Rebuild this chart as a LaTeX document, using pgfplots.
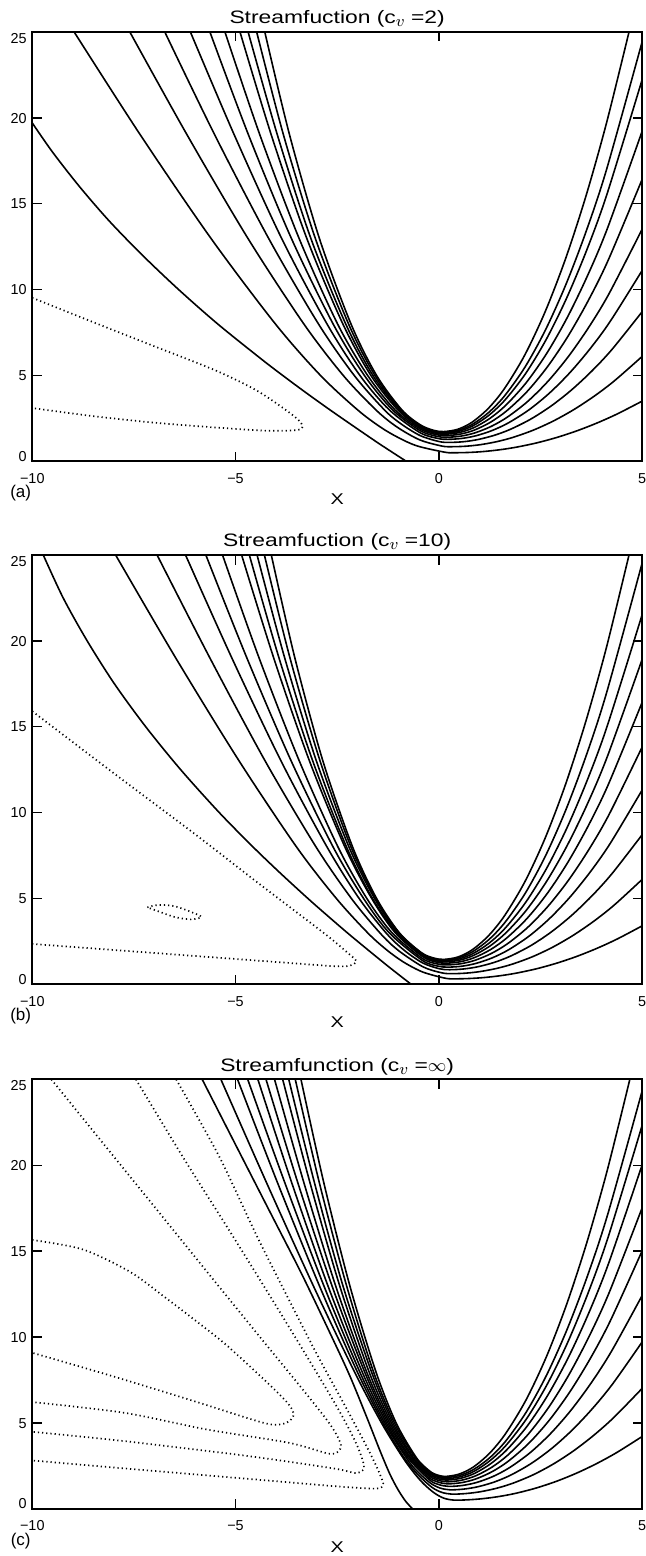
\documentclass[border=0pt]{standalone}
\usepackage{fontspec}
\setmainfont{Liberation Sans}
\newfontfamily\titlefont[FakeStretch=1.27]{Liberation Sans}
\usepackage{pgfplots}
\pgfplotsset{compat=1.18}
\newcommand{\cv}{c\raisebox{-1.5pt}{\fontsize{8}{9}\selectfont$v$}}
\pgfplotsset{
  panel/.style={
    scale only axis, width=304.85pt, height=214.65pt,
    xmin=-10, xmax=5, ymin=0, ymax=25,
    axis line style={line width=1pt},
    tick align=inside, tick pos=both,
    major tick length=4.75pt,
    tick style={black, line width=0.75pt},
    xtick={-10,-5,0,5}, xticklabels={−10,−5,0,5},
    ytick={0,5,10,15,20,25},
    yticklabels={{\raisebox{2.58pt}{0}},5,10,15,20,{\raisebox{-3.2pt}{25}}},
    ticklabel style={font=\fontsize{7.2}{8}\selectfont, inner sep=0pt},
    xticklabel style={anchor=north, yshift=-5.7pt},
    yticklabel style={anchor=base east, xshift=-2.6pt, yshift=-2.58pt},
    every axis title/.style={font=\titlefont\fontsize{9}{10}\selectfont, at={(0.5,1)}, anchor=base, yshift=4.2pt},
    xlabel={X},
    every axis x label/.style={font=\titlefont\fontsize{7.8}{9}\selectfont, at={(axis description cs:0.5,0)}, anchor=center, yshift=-19pt},
  },
  sol/.style={black, line width=0.8pt, smooth},
  dotc/.style={black, line width=0.85pt, dash pattern=on 0.6pt off 1.5pt, smooth},
}
\begin{document}
\begin{tikzpicture}
\useasboundingbox (0,0) rectangle (322.5pt,-778pt);

% ---------------- (a) c_v = 2
\begin{axis}[panel, name=a, at={(16.15pt,-230.65pt)}, anchor=south west,
  title={Streamfuction (\cv\ =2)}]
  \addplot[sol] coordinates {(-10,19.7) (-9.5,18) (-8.84,16) (-8.11,14) (-7.29,12) (-6.4,10) (-5.44,8) (-4.39,6) (-3.84,5) (-3.27,4) (-2.68,3) (-2.07,2) (-1.45,1) (-0.8,0)};
  \addplot[sol] coordinates {(-4.28,25) (-3.67,19) (-2.94,13) (-2.16,8) (-1.53,5) (-0.91,3) (-0.46,2.13) (-0.13,1.805) (0.12,1.73) (0.47,1.867) (0.82,2.278) (1.22,3.084) (1.62,4.248) (2.12,6.207) (2.62,8.726) (3.12,11.80) (3.62,15.44) (4.12,19.64) (4.68,25)};
  \addplot[sol] coordinates {(-4.48,25) (-3.82,19) (-3.04,13) (-2.22,8) (-1.57,5) (-0.94,3) (-0.46,2.09) (-0.12,1.762) (0.13,1.69) (0.48,1.807) (0.83,2.159) (1.23,2.848) (1.63,3.844) (2.13,5.520) (2.63,7.674) (3.13,10.31) (3.63,13.42) (4.13,17.01) (5,24.4)};
  \addplot[sol] coordinates {(-4.69,25) (-3.97,19) (-3.15,13) (-2.29,8) (-1.62,5) (-0.97,3) (-0.46,2.04) (-0.11,1.709) (0.14,1.64) (0.49,1.747) (0.84,2.067) (1.24,2.693) (1.64,3.599) (2.14,5.122) (2.64,7.081) (3.14,9.475) (3.64,12.30) (4.14,15.57) (5,22.2)};
  \addplot[sol] coordinates {(-4.89,25) (-4.12,19) (-3.25,13) (-2.36,8) (-1.67,5) (-1.01,3) (-0.47,1.98) (-0.10,1.646) (0.15,1.58) (0.50,1.672) (0.85,1.947) (1.25,2.486) (1.65,3.265) (2.15,4.576) (2.65,6.262) (3.15,8.322) (3.65,10.76) (4.15,13.57) (5,19.2)};
  \addplot[sol] coordinates {(-5.26,25) (-4.40,19) (-3.44,13) (-2.49,8) (-1.75,5) (-1.08,3) (-0.47,1.9) (-0.08,1.561) (0.17,1.5) (0.52,1.578) (0.87,1.813) (1.27,2.273) (1.67,2.937) (2.17,4.055) (2.67,5.492) (3.17,7.248) (3.67,9.324) (4.17,11.72) (5,16.4)};
  \addplot[sol] coordinates {(-5.63,25) (-4.68,19) (-3.63,13) (-2.60,8) (-1.83,5) (-1.14,3) (-0.47,1.8) (-0.06,1.458) (0.19,1.4) (0.54,1.464) (0.89,1.656) (1.29,2.033) (1.69,2.577) (2.19,3.492) (2.69,4.668) (3.19,6.106) (3.69,7.805) (4.19,9.766) (5,13.5)};
  \addplot[sol] coordinates {(-6.11,25) (-5.03,19) (-3.87,13) (-2.75,8) (-1.94,5) (-1.22,3) (-0.47,1.68) (-0.03,1.334) (0.22,1.28) (0.57,1.333) (0.92,1.491) (1.32,1.800) (1.72,2.247) (2.22,2.999) (2.72,3.966) (3.22,5.148) (3.72,6.545) (4.22,8.157) (5,11.1)};
  \addplot[sol] coordinates {(-6.74,25) (-5.51,19) (-4.19,13) (-2.96,8) (-2.08,5) (-1.34,3) (-0.94,2.2) (-0.46,1.5) (0.01,1.149) (0.26,1.10) (0.61,1.141) (0.96,1.266) (1.36,1.509) (1.76,1.861) (2.26,2.453) (2.76,3.214) (3.26,4.144) (3.76,5.243) (4.26,6.511) (5,8.7)};
  \addplot[sol] coordinates {(-7.60,25) (-6.19,19) (-4.70,13) (-3.32,8) (-2.35,5) (-1.55,3) (-1.03,2) (-0.47,1.25) (0.07,0.891) (0.32,0.85) (0.67,0.879) (1.02,0.967) (1.42,1.140) (1.82,1.389) (2.32,1.809) (2.82,2.348) (3.32,3.007) (3.82,3.786) (4.32,4.685) (5,6.1)};
  \addplot[sol] coordinates {(-8.97,25) (-7.34,19) (-5.61,13) (-4.02,8) (-2.91,5) (-2.00,3) (-1.44,2) (-1.01,1.4) (-0.54,0.9) (0.15,0.529) (0.40,0.5) (0.75,0.517) (1.10,0.569) (1.50,0.672) (1.90,0.819) (2.40,1.067) (2.90,1.386) (3.40,1.776) (3.90,2.237) (4.40,2.769) (5,3.5)};
  \addplot[dotc] coordinates {(-10,9.52) (-8.5,8.1) (-7,6.7) (-5.5,5.3) (-4.5,4.15) (-3.8,3.05) (-3.45,2.4) (-3.35,2.0) (-3.5,1.82) (-4.2,1.78) (-5.5,1.97) (-7,2.25) (-8.5,2.63) (-10,3.1)};
\end{axis}
\node[font=\fontsize{8.5}{10}\selectfont] at ([shift={(-5.8pt,-16pt)}]a.south west) {(a)};

% ---------------- (b) c_v = 10
\begin{axis}[panel, name=b, at={(16.15pt,-492.15pt)}, anchor=south west,
  title={Streamfuction (\cv\ =10)}]
  \addplot[sol] coordinates {(-9.73,25) (-9.24,22.5) (-8.65,20) (-7.98,17.5) (-7.21,15) (-6.35,12.5) (-5.40,10) (-4.57,8) (-3.91,6.5) (-3.22,5) (-2.74,4) (-2.25,3) (-1.74,2) (-1.22,1) (-0.68,0)};
  \addplot[sol] coordinates {(-4.12,25) (-3.54,19) (-2.85,13) (-2.12,8) (-1.53,5) (-0.97,3) (-0.43,1.85) (-0.13,1.532) (0.12,1.45) (0.47,1.589) (0.82,2.005) (1.22,2.821) (1.62,3.999) (2.12,5.981) (2.62,8.530) (3.12,11.65) (3.62,15.33) (4.12,19.57) (4.68,25)};
  \addplot[sol] coordinates {(-4.29,25) (-3.66,19) (-2.92,13) (-2.16,8) (-1.55,5) (-0.98,3) (-0.43,1.82) (-0.12,1.500) (0.13,1.42) (0.48,1.539) (0.83,1.897) (1.23,2.597) (1.63,3.609) (2.13,5.312) (2.63,7.501) (3.13,10.18) (3.63,13.34) (4.13,16.99) (5,24.5)};
  \addplot[sol] coordinates {(-4.47,25) (-3.79,19) (-3.01,13) (-2.21,8) (-1.58,5) (-1.01,3) (-0.43,1.77) (-0.11,1.448) (0.14,1.37) (0.49,1.474) (0.84,1.788) (1.24,2.401) (1.64,3.287) (2.14,4.779) (2.64,6.696) (3.14,9.040) (3.64,11.81) (4.14,15.01) (5,21.5)};
  \addplot[sol] coordinates {(-4.66,25) (-3.93,19) (-3.10,13) (-2.27,8) (-1.63,5) (-1.04,3) (-0.43,1.71) (-0.10,1.385) (0.15,1.31) (0.50,1.402) (0.85,1.676) (1.25,2.215) (1.65,2.993) (2.15,4.302) (2.65,5.984) (3.15,8.041) (3.65,10.47) (4.15,13.28) (5,18.9)};
  \addplot[sol] coordinates {(-4.85,25) (-4.06,19) (-3.18,13) (-2.31,8) (-1.65,5) (-1.07,3) (-0.41,1.63) (-0.08,1.304) (0.17,1.23) (0.52,1.310) (0.87,1.549) (1.27,2.017) (1.67,2.693) (2.17,3.831) (2.67,5.294) (3.17,7.082) (3.67,9.195) (4.17,11.63) (5,16.4)};
  \addplot[sol] coordinates {(-5.32,25) (-4.42,19) (-3.43,13) (-2.48,8) (-1.77,5) (-1.15,3) (-0.42,1.53) (-0.06,1.197) (0.19,1.13) (0.54,1.197) (0.89,1.398) (1.29,1.792) (1.69,2.362) (2.19,3.320) (2.69,4.552) (3.19,6.058) (3.69,7.837) (4.19,9.89) (5,13.8)};
  \addplot[sol] coordinates {(-5.73,25) (-4.72,19) (-3.63,13) (-2.60,8) (-1.85,5) (-1.22,3) (-0.41,1.4) (-0.03,1.063) (0.22,1.0) (0.57,1.055) (0.92,1.221) (1.32,1.545) (1.72,2.014) (2.22,2.803) (2.72,3.818) (3.22,5.057) (3.72,6.522) (4.22,8.213) (5,11.3)};
  \addplot[sol] coordinates {(-6.23,25) (-5.09,19) (-3.88,13) (-2.75,8) (-1.96,5) (-1.30,3) (-0.86,2) (-0.40,1.25) (0.01,0.909) (0.26,0.85) (0.61,0.893) (0.96,1.021) (1.36,1.273) (1.76,1.636) (2.26,2.248) (2.76,3.034) (3.26,3.995) (3.76,5.130) (4.26,6.440) (5,8.7)};
  \addplot[sol] coordinates {(-6.93,25) (-5.63,19) (-4.27,13) (-3.02,8) (-2.15,5) (-1.45,3) (-1.01,2) (-0.39,1.02) (0.07,0.671) (0.32,0.62) (0.67,0.651) (1.02,0.743) (1.42,0.923) (1.82,1.183) (2.32,1.621) (2.82,2.184) (3.32,2.872) (3.82,3.685) (4.32,4.623) (5,6.1)};
  \addplot[sol] coordinates {(-7.95,25) (-6.47,19) (-4.91,13) (-3.50,8) (-2.52,5) (-1.75,3) (-1.28,2) (-0.87,1.3) (-0.40,0.72) (0.15,0.359) (0.40,0.32) (0.75,0.338) (1.10,0.391) (1.50,0.496) (1.90,0.648) (2.40,0.902) (2.90,1.230) (3.40,1.630) (3.90,2.104) (4.40,2.650) (5,3.4)};
  \addplot[dotc] coordinates {(-10,15.9) (-8,12.3) (-6,8.75) (-4.5,6.0) (-3.5,4.2) (-2.7,2.75) (-2.25,1.85) (-2.03,1.35) (-2.2,1.08) (-2.6,1.06) (-4,1.3) (-6,1.65) (-8,2.0) (-10,2.35)};
  \addplot[dotc] coordinates {(-7.17,4.48) (-6.9,4.62) (-6.5,4.55) (-6.1,4.22) (-5.84,3.92) (-6.1,3.78) (-6.5,3.92) (-6.9,4.25) (-7.17,4.48)};
\end{axis}
\node[font=\fontsize{8.5}{10}\selectfont] at ([shift={(-5.8pt,-16pt)}]b.south west) {(b)};

% ---------------- (c) c_v = infinity
\begin{axis}[panel, name=c, at={(16.15pt,-754.35pt)}, anchor=south west,
  title={Streamfunction (\cv\ =$\infty$)}]
  \addplot[sol] coordinates {(-5.82,25) (-5.0,21.2) (-4.2,17.5) (-3.4,13.8) (-2.75,10.6) (-2.2,7.8) (-1.75,5.2) (-1.45,3.4) (-1.2,2.0) (-1.0,1.1) (-0.82,0.45) (-0.65,0)};
  \addplot[sol] coordinates {(-3.39,25) (-2.83,19) (-2.19,13) (-1.55,8) (-1.05,5) (-0.56,3) (-0.27,2.28) (-0.10,2.019) (0.15,1.88) (0.50,2.017) (0.85,2.427) (1.25,3.231) (1.65,4.393) (2.15,6.348) (2.65,8.861) (3.15,11.93) (3.65,15.56) (4.15,19.75) (4.70,25)};
  \addplot[sol] coordinates {(-3.53,25) (-2.94,19) (-2.27,13) (-1.61,8) (-1.09,5) (-0.59,3) (-0.28,2.22) (-0.09,1.951) (0.16,1.82) (0.51,1.938) (0.86,2.290) (1.26,2.981) (1.66,3.979) (2.16,5.658) (2.66,7.816) (3.16,10.46) (3.66,13.57) (4.16,17.17) (5,24.3)};
  \addplot[sol] coordinates {(-3.69,25) (-3.06,19) (-2.36,13) (-1.66,8) (-1.13,5) (-0.63,3) (-0.28,2.15) (-0.08,1.875) (0.17,1.75) (0.52,1.858) (0.87,2.182) (1.27,2.816) (1.67,3.732) (2.17,5.273) (2.67,7.255) (3.17,9.677) (3.67,12.54) (4.17,15.84) (5,22.3)};
  \addplot[sol] coordinates {(-3.84,25) (-3.17,19) (-2.44,13) (-1.72,8) (-1.17,5) (-0.66,3) (-0.28,2.07) (-0.07,1.789) (0.18,1.67) (0.53,1.767) (0.88,2.057) (1.28,2.625) (1.68,3.445) (2.18,4.826) (2.68,6.602) (3.18,8.772) (3.68,11.34) (4.18,14.30) (5,20.0)};
  \addplot[sol] coordinates {(-4.04,25) (-3.32,19) (-2.54,13) (-1.78,8) (-1.21,5) (-0.70,3) (-0.27,1.97) (-0.05,1.684) (0.20,1.57) (0.55,1.655) (0.90,1.909) (1.30,2.407) (1.70,3.126) (2.20,4.336) (2.70,5.891) (3.20,7.793) (3.70,10.04) (4.20,12.63) (5,17.5)};
  \addplot[sol] coordinates {(-4.25,25) (-3.47,19) (-2.63,13) (-1.83,8) (-1.25,5) (-0.73,3) (-0.26,1.85) (-0.03,1.560) (0.22,1.45) (0.57,1.523) (0.92,1.741) (1.32,2.168) (1.72,2.784) (2.22,3.822) (2.72,5.156) (3.22,6.787) (3.72,8.714) (4.22,10.94) (5,15)};
  \addplot[sol] coordinates {(-4.45,25) (-3.62,19) (-2.73,13) (-1.89,8) (-1.29,5) (-0.77,3) (-0.24,1.7) (0.00,1.406) (0.25,1.30) (0.60,1.360) (0.95,1.541) (1.35,1.895) (1.75,2.407) (2.25,3.268) (2.75,4.375) (3.25,5.728) (3.75,7.327) (4.25,9.172) (5,12.4)};
  \addplot[sol] coordinates {(-4.70,25) (-3.79,19) (-2.83,13) (-1.95,8) (-1.33,5) (-0.81,3) (-0.54,2.2) (-0.21,1.5) (0.03,1.206) (0.28,1.10) (0.63,1.147) (0.98,1.289) (1.38,1.567) (1.78,1.969) (2.28,2.644) (2.78,3.513) (3.28,4.574) (3.78,5.829) (4.28,7.276) (5,9.7)};
  \addplot[sol] coordinates {(-4.95,25) (-3.97,19) (-2.94,13) (-2.01,8) (-1.37,5) (-0.86,3) (-0.52,2) (-0.17,1.25) (0.07,0.956) (0.32,0.85) (0.67,0.884) (1.02,0.988) (1.42,1.190) (1.82,1.482) (2.32,1.973) (2.82,2.605) (3.32,3.377) (3.82,4.290) (4.32,5.343) (5,7.0)};
  \addplot[sol] coordinates {(-5.36,25) (-4.24,19) (-3.09,13) (-2.08,8) (-1.41,5) (-0.89,3) (-0.58,2) (-0.35,1.4) (-0.10,0.9) (0.13,0.610) (0.38,0.5) (0.73,0.521) (1.08,0.585) (1.48,0.710) (1.88,0.890) (2.38,1.194) (2.88,1.584) (3.38,2.061) (3.88,2.624) (4.38,3.274) (5,4.2)};
  \addplot[dotc] coordinates {(-10,15.65) (-8.76,15.1) (-7.6,13.8) (-6.73,12.3) (-5.9,10.8) (-5.21,9.5) (-4.2,7.3) (-3.7,6.1) (-3.57,5.45) (-3.75,5.0) (-4.1,4.9) (-4.6,5.2) (-6.0,6.25) (-8,7.7) (-10,9.08)};
  \addplot[dotc] coordinates {(-9.53,25) (-8.3,21.4) (-7,17.6) (-5.6,13.5) (-4.4,10.0) (-3.4,7.1) (-2.7,5.0) (-2.45,4.0) (-2.42,3.5) (-2.68,3.2) (-3.69,3.84) (-5.72,4.62) (-7.75,5.59) (-10,6.21)};
  \addplot[dotc] coordinates {(-7.45,25) (-6.3,20.5) (-5.1,16) (-4.0,11.8) (-3.1,8.3) (-2.45,5.7) (-2.05,3.9) (-1.87,2.8) (-1.85,2.3) (-2.05,2.08) (-2.6,2.35) (-4.7,3.07) (-7.75,3.94) (-10,4.48)};
  \addplot[dotc] coordinates {(-6.46,25) (-5.4,20.5) (-4.5,16) (-3.65,12) (-3.0,9.0) (-2.4,6.4) (-1.9,4.2) (-1.6,2.8) (-1.43,1.9) (-1.37,1.4) (-1.55,1.17) (-2.5,1.3) (-4,1.6) (-6,2.0) (-8,2.4) (-10,2.81)};
\end{axis}
\node[font=\fontsize{8.5}{10}\selectfont] at ([shift={(-5.8pt,-16pt)}]c.south west) {(c)};
\end{tikzpicture}
\end{document}
